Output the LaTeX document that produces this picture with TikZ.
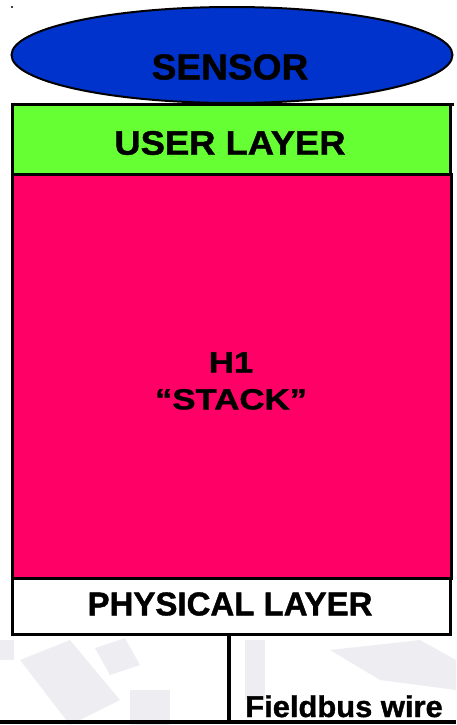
\documentclass[tikz,border=0pt]{standalone}
\usepackage{fontspec}
\setmainfont{Liberation Sans}[BoldFeatures={FakeBold=1.2}]
\usetikzlibrary{shapes.geometric}
\definecolor{sensorblue}{HTML}{0033CC}
\definecolor{usergreen}{HTML}{66FF33}
\definecolor{stackpink}{HTML}{FF0066}
\definecolor{faint}{HTML}{E4E4EA}
\tikzset{
  layerbox/.style={draw=black, line width=3pt},
  label/.style={font=\bfseries, text=black, inner sep=0pt, align=center},
  wire/.style={draw=black, line width=4pt},
}
\begin{document}
\begin{tikzpicture}[x=1pt, y=-1pt]
\useasboundingbox (0,0) rectangle (456,725);
\fill[white] (0,0) rectangle (456,725);
% faint background pattern behind the wire
\begin{scope}[faint, opacity=0.6]
  \fill (20,660) -- (70,640) -- (120,700) -- (70,725) -- cycle;
  \fill (130,690) rectangle (170,725);
  \fill (95,648) -- (125,638) -- (140,665) -- (110,675) -- cycle;
  \fill (245,640) -- (265,640) -- (265,700) -- (245,700) -- cycle;
  \fill (330,650) -- (420,640) -- (456,660) -- (456,690) -- (380,680) -- cycle;
  \fill (0,640) rectangle (14,660);
\end{scope}
\fill[black] (12,7) circle (1.2pt);
% sensor
\node[ellipse, draw=black, line width=2pt, fill=sensorblue,
      minimum width=441pt, minimum height=96pt, inner sep=0pt] (sensor) at (232,55) {};
\node[label, font=\fontsize{36}{36}\selectfont\bfseries, xscale=1.03] (sensortext) at (230,67) {SENSOR};
% user layer
\filldraw[layerbox, fill=usergreen] (12,104) rectangle (450,174);
\draw[black, line width=3pt] (450,104) -- (454,104);
\node[label, font=\fontsize{34}{34}\selectfont\bfseries, xscale=1.07] (user) at (230,143) {USER LAYER};
% stack
\filldraw[layerbox, fill=stackpink] (12,174) rectangle (451,578);
\node[label, font=\fontsize{29}{37}\selectfont\bfseries, xscale=1.2] (stack) at (231,381) {H1\\“STACK”};
% physical layer
\filldraw[layerbox, fill=white] (12,578) rectangle (450,634);
\node[label, font=\fontsize{33}{33}\selectfont\bfseries] (phys) at (230,604) {PHYSICAL LAYER};
% fieldbus wire
\coordinate (tap) at (229,634);
\coordinate (bus) at (229,722);
\coordinate (busL) at (0,722);
\coordinate (busR) at (456,722);
\draw[wire] (tap) -- (bus);
\draw[wire] (busL) -- (busR);
\node[label, font=\fontsize{30}{30}\selectfont\bfseries, xscale=1.03, anchor=base] (fb) at (344,717) {Fieldbus wire};
\end{tikzpicture}
\end{document}
